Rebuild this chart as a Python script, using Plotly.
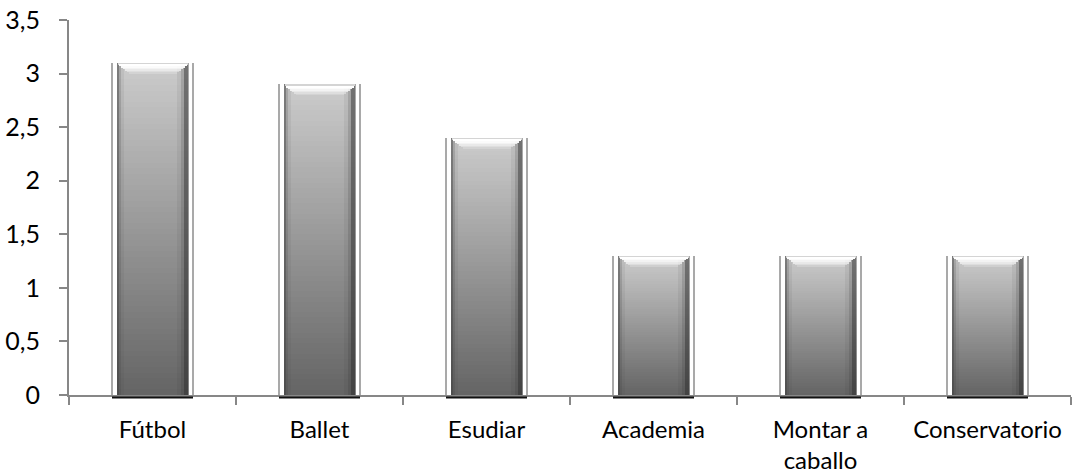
import plotly.graph_objects as go

# Activities and their average scores
categories = ["Fútbol", "Ballet", "Esudiar", "Academia", "Montar a caballo", "Conservatorio"]
category_labels = ["Fútbol", "Ballet", "Esudiar", "Academia", "Montar a<br>caballo", "Conservatorio"]
scores = [3.1, 2.9, 2.4, 1.3, 1.3, 1.3]

y_tick_values = [0, 0.5, 1, 1.5, 2, 2.5, 3, 3.5]
y_tick_labels = ["0", "0,5", "1", "1,5", "2", "2,5", "3", "3,5"]

W, H = 1073, 474
M = dict(l=69, r=2, t=20, b=79)
plot_h = H - M["t"] - M["b"]
y_max = 3.5
unit_px = plot_h / y_max          # pixels per data unit
cat_px = (W - M["l"] - M["r"]) / len(categories)
px = 1 / cat_px                   # one pixel in category units
py = 1 / unit_px                  # one pixel in data units

BODY_W = 72 * px                  # bar body width
OUTER = 40.5 * px                 # half distance between the thin outline strokes

fig = go.Figure()


def add_bar(y, base, width, offset, color):
    fig.add_trace(go.Bar(
        x=categories, y=y, base=base, width=width, offset=offset,
        marker=dict(color=color, line=dict(width=0)),
        hoverinfo="skip", showlegend=False,
    ))


# thin grey outline strokes on each side of the bars
add_bar(scores, 0, 1.2 * px, -OUTER - 0.6 * px, "#a9a9a9")
add_bar(scores, 0, 1.2 * px, OUTER - 0.6 * px, "#a9a9a9")

# body: vertical gradient, dark at the base and light at the top
N = 60
dark, light = 100, 204
for k in range(N):
    t = (k + 0.5) / N
    g = int(round(dark + (light - dark) * t))
    seg = [v / N for v in scores]
    bases = [v * k / N for v in scores]
    add_bar(seg, bases, BODY_W, -BODY_W / 2, f"rgb({g},{g},{g})")

# side shading for the rounded look
half = BODY_W / 2
add_bar(scores, 0, 2 * px, -half, "rgba(60,60,60,0.55)")
add_bar(scores, 0, 2 * px, -half + 2 * px, "rgba(60,60,60,0.25)")
add_bar(scores, 0, 3 * px, -half + 4 * px, "rgba(60,60,60,0.08)")
add_bar(scores, 0, 1 * px, half - 1 * px, "rgba(150,150,150,0.6)")
add_bar(scores, 0, 4 * px, half - 5 * px, "rgba(40,40,40,0.55)")
add_bar(scores, 0, 3 * px, half - 8 * px, "rgba(40,40,40,0.22)")
add_bar(scores, 0, 4 * px, half - 12 * px, "rgba(40,40,40,0.07)")

# bevelled top: light rim and a tapering white highlight
rim = [1.5 * py] * len(scores)
add_bar(rim, [v - 1.5 * py for v in scores], BODY_W - 2 * px, -half + 1 * px, "#d4d4d4")
layers = [(68, 1.0), (64, 0.92), (60, 0.78), (56, 0.6), (52, 0.4), (48, 0.2)]
for i, (w_px, a) in enumerate(layers):
    hgt = [1.6 * py] * len(scores)
    top = [v - 1.5 * py - 1.6 * py * i for v in scores]
    bases = [t - 1.6 * py for t in top]
    add_bar(hgt, bases, w_px * px, -w_px * px / 2, f"rgba(255,255,255,{a})")

# dark foot under each bar, just below the axis line
shapes = []
for i in range(len(categories)):
    shapes.append(dict(
        type="rect", xref="x", yref="paper",
        x0=i - OUTER, x1=i + OUTER, y0=-3.4 / plot_h, y1=-1.4 / plot_h,
        fillcolor="#111111", line=dict(width=0), layer="above",
    ))

axis_col = "#878787"
font = dict(family="Lato", size=25, color="#000000")
x_font = dict(family="Lato", size=24, color="#000000")

fig.update_layout(
    width=W, height=H, margin=M,
    paper_bgcolor="white", plot_bgcolor="white",
    barmode="overlay", bargap=0,
    separators=", ",
    font=font,
    shapes=shapes,
    xaxis=dict(
        type="category", categoryorder="array", categoryarray=categories,
        tickvals=categories, ticktext=category_labels,
        tickson="boundaries", ticks="outside", ticklen=8, tickwidth=2,
        tickcolor=axis_col, showline=True, linecolor=axis_col, linewidth=2,
        showgrid=False, zeroline=False, range=[-0.5, len(categories) - 0.5],
        tickfont=x_font, ticklabelstandoff=12, automargin=False,
    ),
    yaxis=dict(
        range=[0, y_max], tickvals=y_tick_values, ticktext=y_tick_labels,
        ticks="outside", ticklen=8, tickwidth=2, tickcolor=axis_col,
        showline=True, linecolor=axis_col, linewidth=2,
        showgrid=False, zeroline=False, tickfont=font, ticklabelstandoff=14,
        automargin=False,
    ),
)

fig.write_html("out.html")
